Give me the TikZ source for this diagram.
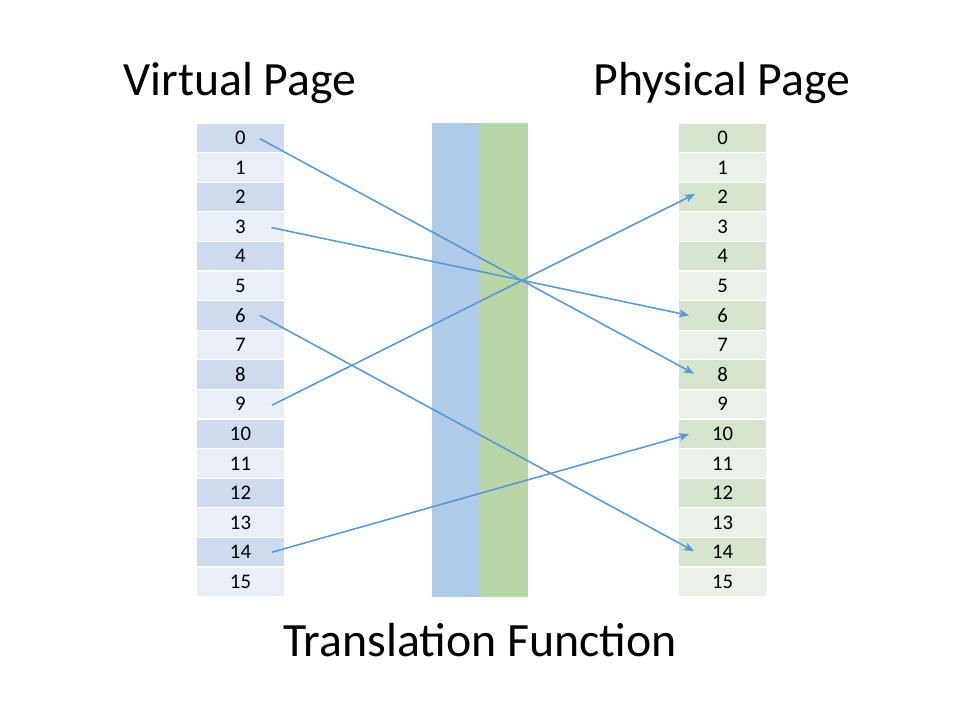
\documentclass[tikz,border=0pt]{standalone}
\usepackage{fontspec}
\setmainfont{Carlito}
\usepackage{tikz}
\usetikzlibrary{arrows.meta}

\definecolor{vdark}{HTML}{CFDAED}
\definecolor{vlight}{HTML}{E9EEF7}
\definecolor{pdark}{HTML}{D5E3CF}
\definecolor{plight}{HTML}{EBF1E9}
\definecolor{barblue}{HTML}{AFCBEA}
\definecolor{bargreen}{HTML}{B8D6A5}
\definecolor{maparrow}{HTML}{5B9BD5}

\begin{document}
\begin{tikzpicture}[x=0.02cm, y=-0.02cm]
    \tikzstyle{pagebox} = [rectangle, draw=white, line width=0.6pt, inner sep=0pt, minimum width=1.78cm, minimum height=0.592cm, font=\fontsize{11.8}{13}\selectfont]
    \tikzstyle{title} = [anchor=base, font=\fontsize{27.2}{32}\selectfont]
    \tikzstyle{mapping} = [maparrow, line width=0.9pt, -{Stealth[length=0.2cm, width=0.16cm, inset=0.05cm]}]

    \useasboundingbox (0,0) rectangle (960,720);

    % Titles
    \node[title] (vtitle) at (240,95) {Virtual Page};
    \node[title] (ptitle) at (722,95) {Physical Page};
    \node[title] (ttitle) at (480,656) {Translation Function};

    % Translation function bars
    \fill[barblue] (432,123) rectangle (480,597);
    \fill[bargreen] (480,123) rectangle (528,597);

    % Virtual and physical pages
    \foreach \i in {0,...,15} {
        \ifodd\i
            \node[pagebox, fill=vlight] (v\i) at (240.5, 123+29.6*\i+14.8) {\i};
            \node[pagebox, fill=plight] (p\i) at (722.5, 123+29.6*\i+14.8) {\i};
        \else
            \node[pagebox, fill=vdark] (v\i) at (240.5, 123+29.6*\i+14.8) {\i};
            \node[pagebox, fill=pdark] (p\i) at (722.5, 123+29.6*\i+14.8) {\i};
        \fi
    }

    % Mappings
    \draw[mapping] ([xshift=0.39cm, yshift=-0.02cm]v0.center) -- ([xshift=-0.57cm, yshift=0.02cm]p8.center);
    \draw[mapping] ([xshift=0.62cm, yshift=-0.02cm]v3.center) -- ([xshift=-0.67cm, yshift=0cm]p6.center);
    \draw[mapping] ([xshift=0.39cm, yshift=0cm]v6.center) -- ([xshift=-0.57cm, yshift=0.02cm]p14.center);
    \draw[mapping] ([xshift=0.63cm, yshift=-0.02cm]v9.center) -- ([xshift=-0.55cm, yshift=0.06cm]p2.center);
    \draw[mapping] ([xshift=0.63cm, yshift=0cm]v14.center) -- ([xshift=-0.67cm, yshift=-0.01cm]p10.center);
\end{tikzpicture}
\end{document}
